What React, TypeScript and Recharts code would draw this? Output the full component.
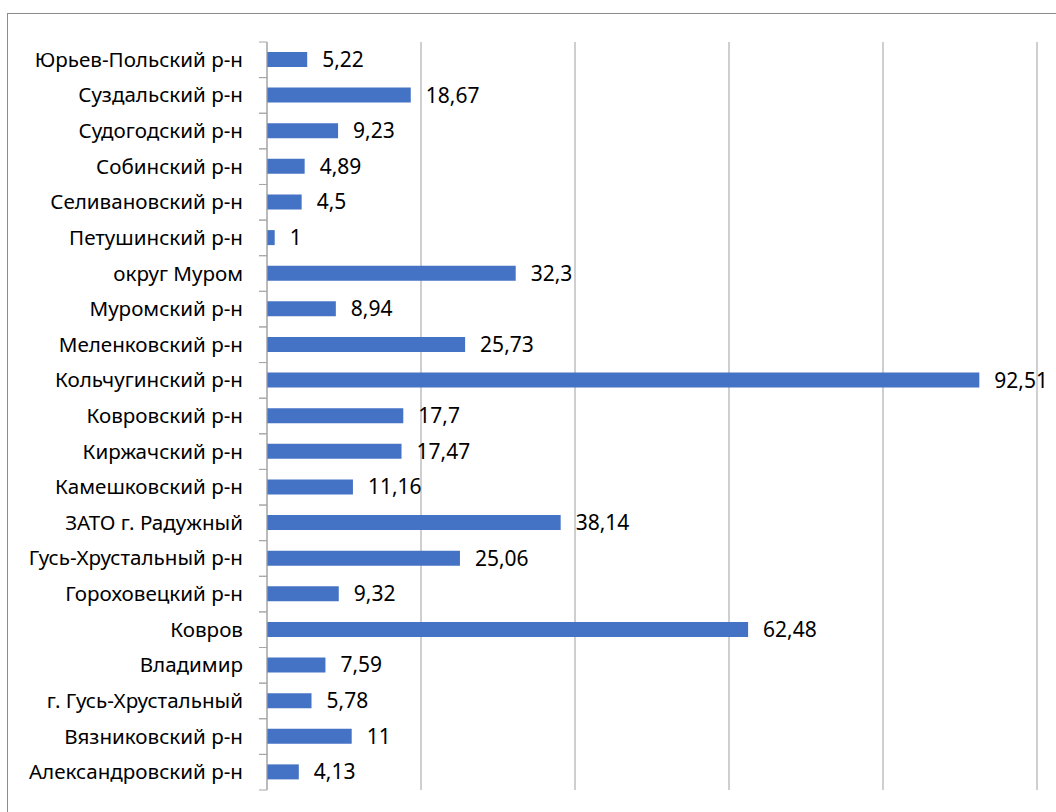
import React from "react";
import { BarChart, Bar, XAxis, YAxis, CartesianGrid, LabelList } from "recharts";

const categories = [
  "Юрьев-Польский р-н",
  "Суздальский р-н",
  "Судогодский р-н",
  "Собинский р-н",
  "Селивановский р-н",
  "Петушинский р-н",
  "округ Муром",
  "Муромский р-н",
  "Меленковский р-н",
  "Кольчугинский р-н",
  "Ковровский р-н",
  "Киржачский р-н",
  "Камешковский р-н",
  "ЗАТО г. Радужный",
  "Гусь-Хрустальный р-н",
  "Гороховецкий р-н",
  "Ковров",
  "Владимир",
  "г. Гусь-Хрустальный",
  "Вязниковский р-н",
  "Александровский р-н",
];

const values = [
  5.22, 18.67, 9.23, 4.89, 4.5, 1, 32.3, 8.94, 25.73, 92.51, 17.7,
  17.47, 11.16, 38.14, 25.06, 9.32, 62.48, 7.59, 5.78, 11, 4.13,
];

const xTicks = [0, 20, 40, 60, 80, 100];

const FONT = "'Noto Sans', 'Open Sans', sans-serif";
const data = categories.map((name, i) => ({ name, value: values[i] }));

const fmt = (v: any) => String(v).replace(".", ",");

// Excel-style category axis: tick marks sit on the band edges
const CategoryTick = ({ x, y, payload }: any) => {
  const axisX = x + 24;
  const half = payload?.offset || 17.8;
  return (
    <g>
      <line x1={axisX - 8} x2={axisX} y1={y - half} y2={y - half} stroke="#a6a6a6" />
      <line x1={axisX - 8} x2={axisX} y1={y + half} y2={y + half} stroke="#a6a6a6" />
      <text x={x} y={y} dy={7} textAnchor="end" fontSize={20.6} fill="#000" fontFamily={FONT}>
        {payload.value}
      </text>
    </g>
  );
};

export default function App() {
  return (
    <div
      style={{
        position: "absolute",
        left: 0,
        top: 0,
        width: 1056,
        height: 812,
        overflow: "hidden",
        background: "#fff",
        fontFamily: FONT,
      }}
    >
      <div
        style={{
          position: "absolute",
          left: 7,
          top: 13,
          width: 1100,
          height: 900,
          border: "1px solid #8c8c8c",
        }}
      />
      <div style={{ position: "absolute", left: 0, top: 0 }}>
        <BarChart
          width={1056}
          height={812}
          data={data}
          layout="vertical"
          margin={{ top: 42, right: 19, bottom: 22, left: 0 }}
        >
          <CartesianGrid horizontal={false} stroke="#bfbfbf" strokeWidth={1.5} />
          <XAxis type="number" domain={[0, 100]} ticks={xTicks} hide />
          <YAxis
            type="category"
            dataKey="name"
            width={267}
            interval={0}
            tickLine={false}
            tickSize={8}
            tickMargin={16}
            axisLine={{ stroke: "#a6a6a6" }}
            tick={<CategoryTick />}
          />
          <Bar dataKey="value" fill="#4472c4" barSize={15} isAnimationActive={false}>
            <LabelList
              dataKey="value"
              position="right"
              offset={15}
              formatter={fmt}
              fontSize={21}
              fill="#000"
              fontFamily={FONT}
            />
          </Bar>
        </BarChart>
      </div>
    </div>
  );
}
